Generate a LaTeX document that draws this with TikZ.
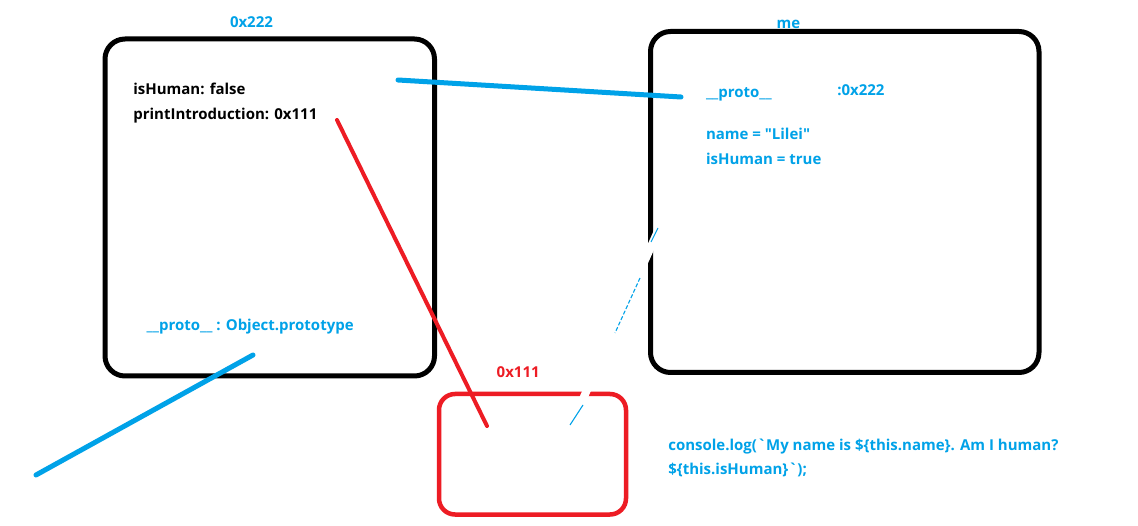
\documentclass[tikz,border=0pt]{standalone}
\usepackage{fontspec}
\setmainfont{Open Sans}
\definecolor{pblue}{HTML}{00A2E8}
\definecolor{pred}{HTML}{ED1C24}
\tikzset{
  box/.style={draw=black, line width=5, rounded corners=20, inner sep=0, outer sep=0},
  redbox/.style={draw=pred, line width=4.5, rounded corners=16, inner sep=0, outer sep=0},
  txt/.style={anchor=base west, inner sep=0, outer sep=0, font=\fontsize{15}{18}\selectfont\bfseries},
  btxt/.style={txt, text=pblue},
  rtxt/.style={txt, text=pred},
  bluelink/.style={draw=pblue, line width=5, line cap=round},
  redlink/.style={draw=pred, line width=4, line cap=round},
  eraser/.style={draw=white, line width=8},
  thinblue/.style={draw=pblue, line width=1.1},
}
\begin{document}
\begin{tikzpicture}[x=1pt,y=-1pt]
\useasboundingbox (0,0) rectangle (1138,526);
\fill[white] (0,0) rectangle (1138,526);
% boxes
\node[box, minimum width=329.5, minimum height=337] (L) at (269.75,207.5) {};
\node[box, minimum width=388.5, minimum height=341] (R) at (844.75,202) {};
\node[redbox, minimum width=187, minimum height=120.5] (F) at (532.5,454.25) {};
% labels
\node[btxt] (l0x222) at (230,27.3) {0x222};
\node[btxt] (lme) at (776.7,28.3) {me};
\node[rtxt] (l0x111) at (496.7,377.3) {0x111};
\node[txt] (t1) at (133.3,95) {isHuman: false};
\node[txt] (t2) at (133.3,120) {printIntroduction: 0x111};
\node[btxt] (t3) at (146.7,330.7) {\_\_proto\_\_ : Object.prototype};
\node[btxt] (t4) at (706,97.7) {\_\_proto\_\_};
\node[btxt] (t5) at (837.3,96) {:0x222};
\node[btxt] (t6) at (706,139.3) {name = \textquotedbl Lilei\textquotedbl};
\node[btxt] (t7) at (706,165) {isHuman = true};
\node[btxt] (c1) at (668.3,450) {console.log(\textasciigrave My name is \$\{this.name\}. Am I human?};
\node[btxt] (c2) at (668.3,474) {\$\{this.isHuman\}\textasciigrave);};
% connectors
\coordinate (a1) at (398,80);
\coordinate (a2) at (681,97);
\coordinate (r1) at (337,120);
\coordinate (r2) at (487,426);
\coordinate (b1) at (253,355);
\coordinate (b2) at (36,475);
\draw[redlink] (r1) -- (r2);
\draw[bluelink] (a1) -- (a2);
\draw[bluelink] (b1) -- (b2);
% erased stroke
\coordinate (e1) at (662,222);
\coordinate (e2) at (570,428);
\draw[eraser] (e1) -- (e2);
\coordinate (f1) at (658,228);
\coordinate (f2) at (651,242);
\coordinate (f3) at (640,278);
\coordinate (f4) at (615,333);
\coordinate (f5) at (583,405);
\coordinate (f6) at (570,425);
\draw[thinblue] (f1) -- (f2);
\draw[thinblue, dash pattern=on 4 off 2] (f3) -- (f4);
\draw[thinblue] (f5) -- (f6);
\end{tikzpicture}
\end{document}
